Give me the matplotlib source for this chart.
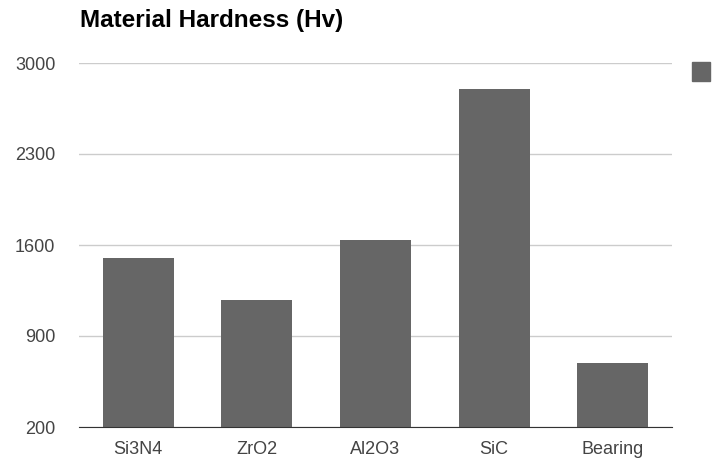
import matplotlib.pyplot as plt
from matplotlib.patches import Rectangle

plt.rcParams['font.family'] = ['Liberation Sans', 'DejaVu Sans']

# Data
materials = ['Si3N4', 'ZrO2', 'Al2O3', 'SiC', 'Bearing']
hardness = [1500, 1180, 1640, 2800, 690]
yticks = [200, 900, 1600, 2300, 3000]

fig = plt.figure(figsize=(7.17, 4.62), dpi=100)
ax = fig.add_axes([79 / 717, 35 / 462, 593 / 717, 364 / 462])

ax.bar(range(len(materials)), hardness, width=0.6, color='#666666', zorder=3)

ax.set_xlim(-0.5, len(materials) - 0.5)
ax.set_ylim(200, 3000)
ax.set_yticks(yticks)
ax.set_xticks(range(len(materials)))
ax.set_xticklabels(materials)
ax.grid(axis='y', color='#cccccc', linewidth=1, zorder=0)
ax.tick_params(length=0, labelsize=13, labelcolor='#444444')
ax.tick_params(axis='y', pad=17)
ax.tick_params(axis='x', pad=10)

for side in ['top', 'right', 'left']:
    ax.spines[side].set_visible(False)
ax.spines['bottom'].set_color('#333333')
ax.spines['bottom'].set_zorder(4)

# Title
fig.text(80 / 717, 1 - 20 / 462, 'Material Hardness (Hv)', fontsize=17.5,
         fontweight='bold', color='#000000', va='center', ha='left')

# Legend swatch (no label)
fig.patches.append(Rectangle((692 / 717, 1 - 81 / 462), 18 / 717, 19 / 462,
                             transform=fig.transFigure, color='#666666'))

plt.savefig('out.png', dpi=100)
